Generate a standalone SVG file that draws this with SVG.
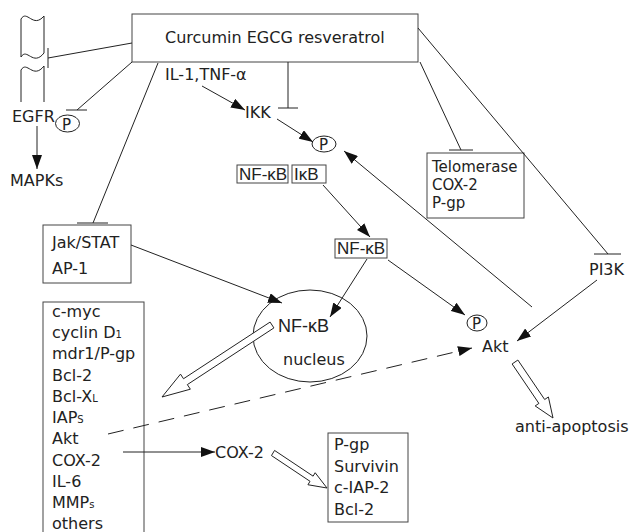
<svg xmlns="http://www.w3.org/2000/svg" width="632" height="532" viewBox="0 0 632 532">
<style>
text{font-family:"DejaVu Sans","Liberation Sans",sans-serif;font-size:16px;fill:#222}
.n{font-family:"Liberation Sans",Arial,sans-serif;font-size:17px}
.p{font-size:15px}
.sub{font-size:10px}
.box{fill:#fff;stroke:#444;stroke-width:1}
.ln{fill:none;stroke:#222;stroke-width:1}
.ar{fill:none;stroke:#222;stroke-width:1;marker-end:url(#ah)}
.hol{fill:#fff;stroke:#222;stroke-width:1}
</style>
<defs>
<marker id="ah" markerWidth="14" markerHeight="10" refX="14" refY="5" orient="auto" markerUnits="userSpaceOnUse">
<path d="M0,0 L14,5 L0,10 Z" fill="#111"/>
</marker>
</defs>
<rect width="632" height="532" fill="#fff"/>

<g id="membrane" class="ln">
<path d="M21,19 C27,9 33,29 44,16 M21,19 L21,57 M44,16 L44,53 M21,57 C27,47 33,67 44,53" />
<path d="M21,70 C27,60 33,80 44,66 M21,70 L21,102 M44,66 L44,102"/>
</g>

<g id="drugs">
<rect class="box" x="132" y="14" width="286" height="48"/>
<text x="165" y="43">Curcumin EGCG resveratrol</text>
</g>

<g id="egfr"><text x="12" y="122">EGFR</text></g>
<g id="egfr-p"><ellipse class="ln" cx="67.5" cy="123.5" rx="12" ry="8.5"/><text class="p" x="62" y="130">P</text></g>
<g id="mapks"><text x="10" y="186">MAPKs</text></g>
<g id="il1"><text x="165" y="80">IL-1,TNF-α</text></g>
<g id="ikk"><text x="245" y="118">IKK</text></g>
<g id="ikk-p"><ellipse class="ln" cx="324" cy="144" rx="12" ry="8"/><text class="p" x="319" y="150">P</text></g>

<g id="complex">
<rect class="box" x="237" y="165" width="51" height="18"/>
<text class="n" x="239" y="180">NF-κB</text>
<rect class="box" x="292" y="165" width="34" height="18"/>
<text class="n" x="294" y="180">IκB</text>
</g>

<g id="nfkb-free">
<rect class="box" x="335" y="239" width="52" height="19"/>
<text class="n" x="337" y="254">NF-κB</text>
</g>

<g id="telomerase">
<rect class="box" x="427" y="153" width="97" height="65"/>
<text x="432" y="172" style="font-size:15px">Telomerase</text>
<text x="432" y="190" style="font-size:15px">COX-2</text>
<text x="432" y="208" style="font-size:15px">P-gp</text>
</g>

<g id="pi3k"><text x="589" y="275">PI3K</text></g>

<g id="jak">
<rect class="box" x="43" y="225" width="88" height="58"/>
<text x="52" y="248">Jak/STAT</text>
<text x="52" y="274">AP-1</text>
</g>

<g id="nucleus">
<ellipse class="ln" cx="310" cy="336" rx="57" ry="46"/>
<text class="n" x="278" y="332" style="font-size:18px">NF-κB</text>
<text x="283" y="365">nucleus</text>
</g>

<g id="akt-p"><ellipse class="ln" cx="477" cy="323" rx="10" ry="8"/><text class="p" x="472" y="329">P</text></g>
<g id="akt"><text x="482" y="352">Akt</text></g>
<g id="antiapop"><text x="515" y="432">anti-apoptosis</text></g>

<g id="genes">
<rect class="box" x="43" y="302" width="101" height="240"/>
<text x="52" y="317">c-myc</text>
<text x="52" y="338">cyclin D<tspan class="sub">1</tspan></text>
<text x="52" y="359">mdr1/P-gp</text>
<text x="52" y="381">Bcl-2</text>
<text x="52" y="402">Bcl-X<tspan class="sub">L</tspan></text>
<text x="52" y="423">IAP<tspan class="sub">S</tspan></text>
<text x="52" y="444">Akt</text>
<text x="52" y="466">COX-2</text>
<text x="52" y="487">IL-6</text>
<text x="52" y="508">MMP<tspan class="sub">s</tspan></text>
<text x="52" y="529">others</text>
</g>

<g id="cox2"><text x="215" y="458">COX-2</text></g>

<g id="targets">
<rect class="box" x="328" y="433" width="80" height="89"/>
<text x="334" y="450">P-gp</text>
<text x="334" y="472">Survivin</text>
<text x="334" y="493">c-IAP-2</text>
<text x="334" y="515">Bcl-2</text>
</g>

<g id="connectors">
<path class="ln" d="M132,43 L48,58 M48,48 L48,68"/>
<path class="ln" d="M132,62 L77,110 M66,110 L87,110"/>
<path class="ln" d="M158,63 L93,223 M77,223 L108,223"/>
<path class="ln" d="M288,62 L288,108 M278,108 L298,108"/>
<path class="ln" d="M420,62 L461,150 M449,150 L473,150"/>
<path class="ln" d="M418,28 L608,254 M594,254 L621,254"/>
<path class="ar" d="M37,126 L37,169"/>
<path class="ar" d="M202,86 L245,110"/>
<path class="ar" d="M277,119 L313,142"/>
<path class="ar" d="M532,307 L344,151"/>
<path class="ar" d="M323,185 L370,237"/>
<path class="ar" d="M367,259 L330,317"/>
<path class="ar" d="M388,260 L465,315"/>
<path class="ar" d="M597,280 L517,341"/>
<path class="ar" d="M131,245 L282,303"/>
<path class="ar" d="M108,434 L472,348" stroke-dasharray="16 10"/>
<path class="ar" d="M123,452 L215,452"/>
<polygon class="hol" points="270.08,322.07 183.5,378.74 180.49,374.14 162,397 190.35,389.2 187.34,384.6 273.92,327.93"/>
<polygon class="hol" points="274.55,450.43 313.1,476.16 315.17,472.72 327,488 307.95,484.74 310.02,481.3 271.46,455.57"/>
<polygon class="hol" points="517.89,360.04 544.67,399.5 548.4,396.97 553,418 535.16,405.95 538.89,403.42 512.11,363.96"/>
</g>
</svg>
